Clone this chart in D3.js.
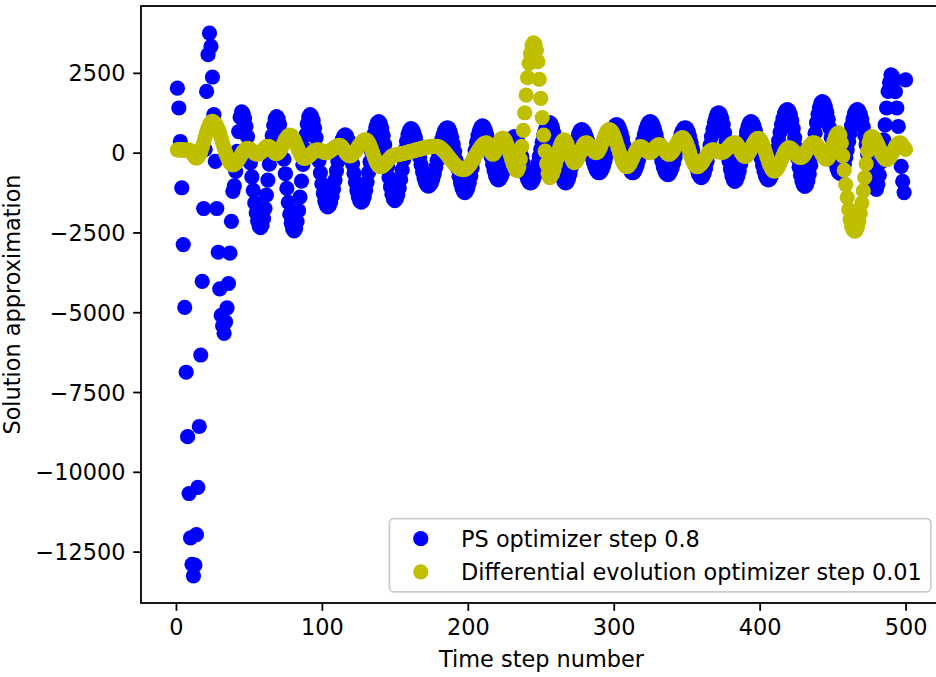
<!DOCTYPE html>
<html><head><meta charset="utf-8">
<script src="https://cdn.jsdelivr.net/npm/d3@7"></script>
<style>
html,body{margin:0;padding:0;background:#fff;overflow:hidden;}
svg{display:block;font-family:"DejaVu Sans",sans-serif;}
</style></head><body>
<svg id="chart" width="936" height="677"></svg>
<script>
// ---- data ----
const psValues = [
2020,1400,350,-1100,-2880,-4850,-6880,-8900,-10680,-12070,
-12900,-13260,-12920,-11970,-10490,-8580,-6340,-4030,-1750,100,
1920,3070,3745,3330,2370,1190,-270,-1750,-3120,-4270,
-5100,-5430,-5660,-5300,-4860,-4100,-3150,-2150,
-1210,-1040,-590,40,660,1110,
1280,1230,1070,820,500,110,-320,-760,-1180,-1570,-1890,-2140,-2300,
-2350,-2280,-2070,-1750,-1330,-860,-360,110,530,850,1060,
1130,1070,890,610,240,-200,-660,-1120,-1560,-1930,-2210,-2390,
-2450,-2380,-2160,-1820,-1390,-890,-370,130,560,900,1120,
1190,1140,1000,770,470,120,-260,-630,-980,-1280,-1510,-1650,
-1700,-1660,-1550,-1370,-1140,-860,-570,-280,0,230,410,520,
560,520,390,200,-60,-350,-650,-930,-1190,-1380,-1510,
-1550,-1510,-1380,-1180,-920,-620,-290,40,340,600,800,930,
970,920,770,540,250,-90,-440,-780,-1070,-1300,-1450,
-1500,-1450,-1320,-1110,-840,-540,-220,90,360,570,700,
750,720,630,490,300,80,-150,-380,-600,-790,-930,-1020,
-1050,-1020,-950,-820,-660,-460,-250,-20,190,390,550,680,750,
780,750,640,480,270,30,-240,-500,-740,-950,-1110,-1220,
-1250,-1210,-1110,-940,-730,-480,-210,70,320,530,700,800,
840,810,710,550,350,120,-130,-360,-560,-720,-820,
-850,-820,-740,-620,-460,-270,-80,110,270,390,470,
500,470,390,250,80,-120,-330,-530,-700,-840,-920,
-950,-920,-840,-710,-540,-340,-120,110,330,530,700,830,910,
940,900,790,610,390,130,-140,-400,-620,-800,-910,
-950,-920,-820,-660,-460,-230,0,230,430,590,690,
720,700,630,520,380,220,50,-130,-290,-430,-540,-610,
-630,-600,-530,-410,-250,-70,130,320,500,660,780,850,
880,850,760,620,440,230,20,-190,-370,-510,-600,
-630,-600,-520,-400,-230,-40,170,380,570,740,860,940,
970,940,860,730,560,360,140,-80,-280,-450,-580,-660,
-690,-670,-590,-480,-320,-150,50,240,410,570,680,760,
780,750,660,510,320,110,-110,-320,-510,-660,-750,
-780,-750,-640,-480,-270,-30,240,500,740,950,1110,1220,
1250,1210,1080,880,620,330,20,-270,-530,-730,-860,
-900,-860,-750,-580,-350,-100,170,420,650,820,930,
970,940,850,700,520,300,60,-180,-400,-580,-730,-820,
-850,-820,-720,-570,-380,-140,120,380,640,880,1070,1220,1320,
1350,1310,1190,1000,750,460,150,-170,-460,-710,-900,-1020,
-1060,-1020,-880,-670,-400,-70,270,610,940,1210,1420,1560,
1600,1560,1450,1270,1040,770,480,180,-90,-320,-500,-610,
-650,-620,-520,-360,-150,90,350,610,850,1060,1220,1320,
1350,1310,1210,1040,810,540,250,-50,-340,-610,-840,-1010,-1110,
-1150,-1000,-700,-300,100,400,870,1400,1920,2200,2440,2400,2280,1910,1400,820,200,-430,-900,-1250,2280
];
const deValues = [
90,90,90,90,90,80,80,80,
80,60,-10,-80,-150,
-170,-150,-80,30,170,320,490,640,780,890,960,
980,960,910,830,720,600,450,300,150,0,-120,-230,-310,-360,
-380,-370,-330,-280,-200,-130,-50,30,80,120,
130,120,100,60,20,-20,-40,
-50,-40,0,50,100,150,190,
200,190,140,90,30,-20,
-30,-10,40,120,210,310,410,480,530,
550,530,480,400,300,190,70,-30,-110,-160,
-180,-170,-150,-110,-70,-20,20,60,80,
90,80,70,50,20,10,
0,10,30,60,100,140,170,200,220,
230,210,170,100,30,-40,-80,
-100,-90,-60,-10,50,110,190,250,310,360,390,
400,380,320,230,110,-20,-150,-270,-360,-420,
-440,-430,-410,-370,-320,-260,-200,-150,-110,-90,
-80,-70,-60,-50,-40,-30,-20,-10,0,10,30,40,50,60,80,90,100,110,120,140,150,160,170,180,190,190,200,200,
200,200,180,160,120,80,30,-20,-80,-140,-200,-250,-310,-360,-410,-450,-490,-510,-520,
-530,-520,-500,-460,-410,-340,-270,-190,-110,-30,50,120,190,240,280,300,
310,260,130,0,
-50,-30,40,140,260,360,430,
450,430,350,240,100,-60,-210,-350,-460,-540,
-560,-450,-200,200,700,1250,1800,2350,2800,3100,3350,3440,3400,3200,2850,2300,1700,1100,550,50,-350,-650,
-780,-750,-670,-540,-370,-190,-10,160,290,370,
400,370,270,120,-30,-180,-280,
-310,-290,-220,-120,0,120,220,290,
310,300,250,190,120,60,20,
0,20,80,180,300,420,540,640,700,
720,700,640,550,430,290,140,-10,-150,-270,-360,-420,
-440,-420,-370,-280,-180,-70,30,120,170,
190,180,150,120,70,40,10,
0,20,60,130,190,230,
250,240,190,130,70,10,-40,
-50,-30,10,80,170,260,340,410,450,
470,450,380,280,160,20,-130,-250,-350,-420,
-440,-430,-400,-350,-290,-210,-140,-70,0,50,80,
90,80,70,50,30,20,
10,20,50,90,130,190,240,280,300,
310,290,230,140,50,-40,-100,
-120,-100,-50,20,120,220,310,380,430,
450,430,370,270,150,10,-140,-280,-400,-500,-560,
-580,-560,-510,-430,-330,-220,-100,0,80,130,
150,140,110,60,0,-60,-110,-140,
-150,-140,-100,-40,40,120,200,260,300,
310,300,250,180,100,10,-70,-140,-190,
-200,-170,-80,50,210,370,500,590,
620,550,300,-100,-550,-1000,-1400,-1780,-2100,-2300,-2420,-2460,-2440,-2330,-2150,-1900,-1580,-1200,-780,-350,50,320,470,
500,480,430,350,250,140,30,-70,-150,-200,
-220,-200,-160,-90,0,90,180,250,290,
310,290,230,160,100
];
const seriesNames = ["PS optimizer step 0.8", "Differential evolution optimizer step 0.01"];
const seriesColors = ["#0000ff", "#bfbf00"];
const xTicks = [0, 100, 200, 300, 400, 500];
const yTicks = [-12500, -10000, -7500, -5000, -2500, 0, 2500];
const xLabel = "Time step number";
const yLabel = "Solution approximation";

// ---- layout ----
const fs = 22.4;
const lw = 1.8;
const box = {left: 141, top: 6, right: 942, bottom: 603};
const svg = d3.select("#chart");

const series = [psValues, deValues].map((vals, k) => ({
  name: seriesNames[k], color: seriesColors[k],
  points: vals.map((v, i) => ({x: i + 1, y: v}))
}));
const allPts = series.flatMap(s => s.points);
function padded(ext) { const p = (ext[1] - ext[0]) * 0.05; return [ext[0] - p, ext[1] + p]; }
const x = d3.scaleLinear().domain(padded(d3.extent(allPts, d => d.x))).range([box.left, box.right]);
const y = d3.scaleLinear().domain(padded(d3.extent(allPts, d => d.y))).range([box.bottom, box.top]);

// points
const r = 7.6;
series.forEach(s => {
  svg.append("g").selectAll("circle").data(s.points).join("circle")
    .attr("cx", d => x(d.x)).attr("cy", d => y(d.y)).attr("r", r)
    .attr("fill", s.color);
});

// frame
svg.append("rect").attr("x", box.left).attr("y", box.top)
  .attr("width", box.right - box.left).attr("height", box.bottom - box.top)
  .attr("fill", "none").attr("stroke", "#000").attr("stroke-width", lw);

// axes
const fmt = d3.format("d");
const gx = svg.append("g").attr("transform", `translate(0,${box.bottom})`)
  .call(d3.axisBottom(x).tickValues(xTicks).tickFormat(fmt).tickSize(7.8).tickPadding(7.8));
const gy = svg.append("g").attr("transform", `translate(${box.left},0)`)
  .call(d3.axisLeft(y).tickValues(yTicks).tickFormat(fmt).tickSize(7.8).tickPadding(7.8));
[gx, gy].forEach(g => {
  g.select(".domain").remove();
  g.selectAll(".tick line").attr("stroke", "#000").attr("stroke-width", lw);
  g.selectAll(".tick text").attr("fill", "#000").style("font-size", fs + "px")
    .style("font-family", "'DejaVu Sans', sans-serif");
});
gy.selectAll(".tick text").attr("dy", "0.36em");

// axis labels
svg.append("text").attr("x", (box.left + box.right) / 2).attr("y", 667)
  .attr("text-anchor", "middle").style("font-size", fs + "px").text(xLabel);
svg.append("text").attr("transform", `translate(19.5,${(box.top + box.bottom) / 2}) rotate(-90)`)
  .attr("text-anchor", "middle").style("font-size", fs + "px").text(yLabel);

// legend
const lg = svg.append("g");
const pad = 0.4 * fs, handleLen = 2.0 * fs, handleTxt = 0.8 * fs, rowH = 22, rowGap = 0.5 * fs;
const tmp = seriesNames.map(n => lg.append("text").style("font-size", fs + "px").text(n));
const maxW = d3.max(tmp, t => t.node().getComputedTextLength());
tmp.forEach(t => t.remove());
const lgW = pad + handleLen + handleTxt + maxW + pad;
const lgH = pad * 2 + rowH * 2 + rowGap;
const lgRight = box.right - 0.5 * fs, lgBottom = box.bottom - 0.5 * fs;
const lgX = lgRight - lgW, lgY = lgBottom - lgH;
lg.append("rect").attr("x", lgX).attr("y", lgY).attr("width", lgW).attr("height", lgH)
  .attr("rx", 4.5).attr("ry", 4.5).attr("fill", "#fff").attr("fill-opacity", 0.8)
  .attr("stroke", "#cccccc").attr("stroke-width", lw);
series.forEach((s, k) => {
  const cy = lgY + pad + rowH / 2 + k * (rowH + rowGap);
  lg.append("circle").attr("cx", lgX + pad + handleLen / 2).attr("cy", cy).attr("r", r).attr("fill", s.color);
  lg.append("text").attr("x", lgX + pad + handleLen + handleTxt).attr("y", cy).attr("dy", "0.36em")
    .style("font-size", fs + "px").attr("fill", "#000").text(s.name);
});
</script>
</body></html>
